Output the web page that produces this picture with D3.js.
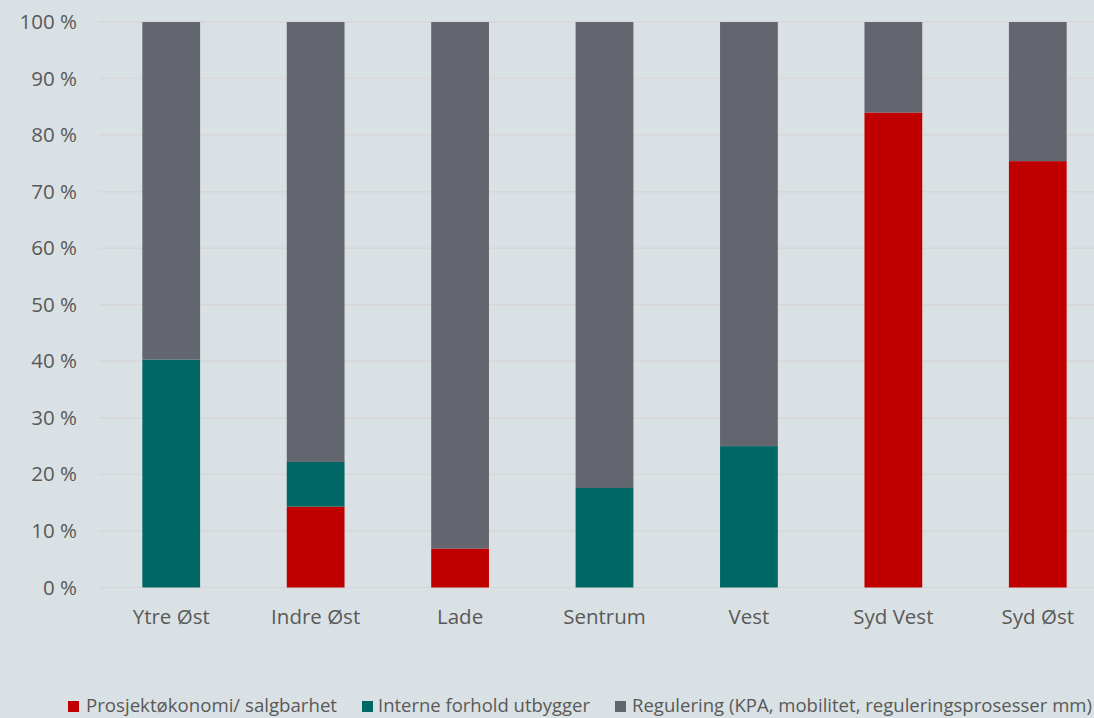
<!DOCTYPE html>
<html>
<head>
<meta charset="utf-8">
<script src="https://cdn.jsdelivr.net/npm/d3@7"></script>
<style>
  html, body { margin: 0; padding: 0; background: #D9E1E4; }
  svg { display: block; }
</style>
</head>
<body>
<svg id="chart" width="1094" height="718"></svg>
<script>
// Areas
const categories = ["Ytre Øst", "Indre Øst", "Lade", "Sentrum", "Vest", "Syd Vest", "Syd Øst"];
// Share (%) per reason
const prosjektokonomi = [0, 14.3, 6.9, 0, 0, 84.0, 75.4];
const interneForhold  = [40.3, 7.9, 0, 17.6, 25.0, 0, 0];
const regulering      = [59.7, 77.8, 93.1, 82.4, 75.0, 16.0, 24.6];
const seriesNames = [
  "Prosjektøkonomi/ salgbarhet",
  "Interne forhold utbygger",
  "Regulering (KPA, mobilitet, reguleringsprosesser mm)"
];
const yTicks = [0, 10, 20, 30, 40, 50, 60, 70, 80, 90, 100];

const colors = ["#C00000", "#006765", "#63666E"];
const svg = d3.select("#chart");
const W = 1094, H = 718;
const plot = { left: 99, right: 1110, top: 22, bottom: 587.5 };

const x = d3.scaleBand().domain(categories).range([plot.left, plot.right]).padding(0);
const y = d3.scaleLinear().domain([0, 100]).range([plot.bottom, plot.top]);
const barW = x.bandwidth() * 0.4;

const rows = categories.map((c, i) => ({
  cat: c,
  s0: prosjektokonomi[i],
  s1: interneForhold[i],
  s2: regulering[i]
}));
const stack = d3.stack().keys(["s0", "s1", "s2"])(rows);

// Gridlines
svg.append("g").selectAll("line").data(yTicks).join("line")
  .attr("x1", plot.left).attr("x2", W)
  .attr("y1", d => y(d)).attr("y2", d => y(d))
  .attr("stroke", "#D8D6D8").attr("stroke-width", 1.5);

// Y axis labels
const yAxis = svg.append("g")
  .attr("transform", `translate(${plot.left - 22},0)`)
  .call(d3.axisLeft(y).tickValues(yTicks).tickSize(0).tickPadding(0).tickFormat(d => d + " %"));
yAxis.select(".domain").remove();
yAxis.selectAll("text")
  .attr("fill", "#595959")
  .style("font-family", "'Open Sans', 'Noto Sans', sans-serif")
  .style("font-size", "20.5px");

// Bars
svg.append("g").selectAll("g").data(stack).join("g")
  .attr("fill", (d, i) => colors[i])
  .selectAll("rect").data(d => d).join("rect")
  .attr("x", d => x(d.data.cat) + (x.bandwidth() - barW) / 2)
  .attr("width", barW)
  .attr("y", d => y(d[1]))
  .attr("height", d => Math.max(0, y(d[0]) - y(d[1])));

// X axis labels
const xAxis = svg.append("g")
  .attr("transform", `translate(0,${plot.bottom + 17})`)
  .call(d3.axisBottom(x).tickSize(0).tickPadding(0));
xAxis.select(".domain").remove();
xAxis.selectAll("text")
  .attr("fill", "#595959")
  .attr("dy", "0.95em")
  .style("font-family", "'Open Sans', 'Noto Sans', sans-serif")
  .style("font-size", "20.5px");

// Legend
const legendItems = [
  { x: 68, tx: 86, w: 251 },
  { x: 362, tx: 378, w: 212 },
  { x: 615, tx: 632, w: 460 }
];
const legend = svg.append("g");
legendItems.forEach((it, i) => {
  legend.append("rect")
    .attr("x", it.x).attr("y", 701).attr("width", 11).attr("height", 11)
    .attr("fill", colors[i]);
  legend.append("text")
    .attr("x", it.tx).attr("y", 712)
    .attr("fill", "#595959")
    .attr("textLength", it.w).attr("lengthAdjust", "spacingAndGlyphs")
    .style("font-family", "'Liberation Sans Narrow', 'Open Sans', sans-serif")
    .style("font-size", "17.5px")
    .text(seriesNames[i]);
});
</script>
</body>
</html>
